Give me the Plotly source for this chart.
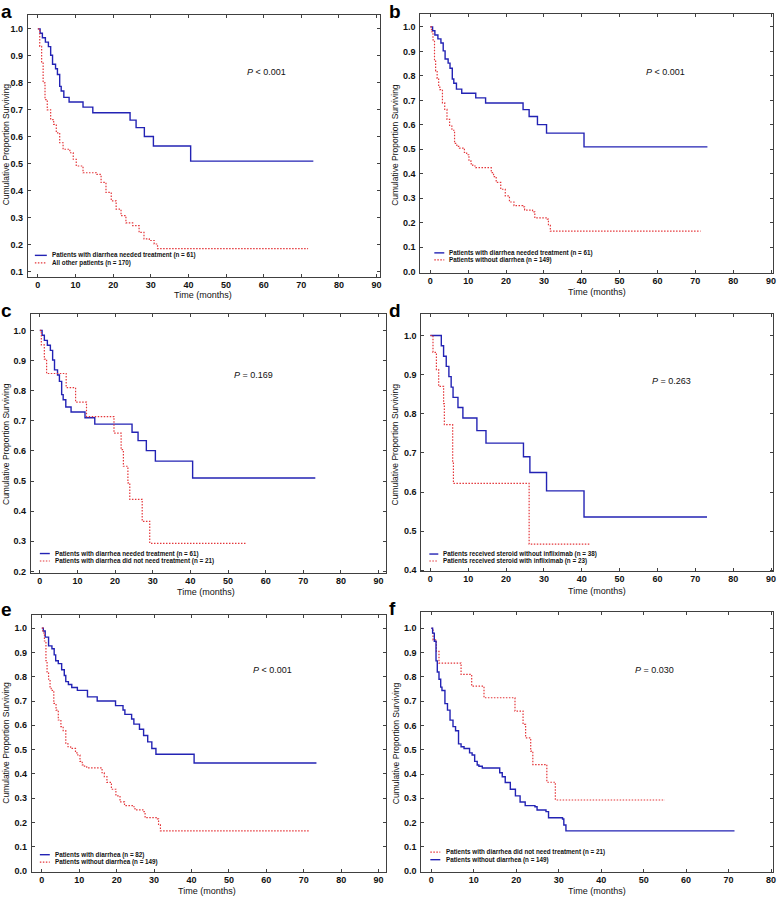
import plotly.graph_objects as go

W, H = 779, 903

# ---------------- data (time in months, cumulative proportion surviving) ----------------
# Patients with diarrhea needed treatment (n = 61)
treat_t = [0, 0.6, 1.2, 2.0, 2.8, 3.4, 3.9, 4.7, 5.2, 5.8, 6.2, 6.9, 8.3, 12.0, 14.6, 24.5, 26.1, 28.3, 30.7, 40.6, 73.2]
treat_s = [1.0, 0.984, 0.967, 0.951, 0.934, 0.902, 0.869, 0.852, 0.831, 0.787, 0.770, 0.746, 0.729, 0.710, 0.689, 0.662, 0.634, 0.601, 0.566, 0.510, 0.510]

# All other patients (n = 170)
other_t = [0, 0.5, 1.0, 1.4, 1.9, 2.5, 3.4, 4.2, 4.9, 5.8, 6.7, 8.5, 9.4, 10.2, 12.0, 15.5, 16.8, 18.1, 19.5, 20.8, 22.1, 23.4, 25.2, 26.9, 28.2, 29.6, 30.9, 31.8, 71.8]
other_s = [1.0, 0.935, 0.873, 0.800, 0.738, 0.700, 0.664, 0.646, 0.615, 0.578, 0.554, 0.541, 0.517, 0.492, 0.467, 0.461, 0.431, 0.394, 0.363, 0.332, 0.308, 0.281, 0.271, 0.246, 0.222, 0.216, 0.203, 0.186, 0.186]

# Patients without diarrhea (n = 149)
nodia_t = [0, 0.3, 0.7, 1.1, 1.4, 1.8, 2.2, 2.5, 3.2, 3.8, 4.4, 5.1, 5.7, 6.4, 7.0, 7.7, 9.0, 9.6, 10.2, 10.8, 11.2, 12.0, 15.5, 16.1, 16.7, 17.4, 18.6, 19.8, 20.9, 22.1, 24.4, 24.9, 27.0, 27.6, 30.9, 31.2, 31.7, 71.4]
nodia_s = [1.0, 0.980, 0.947, 0.866, 0.820, 0.790, 0.758, 0.744, 0.690, 0.663, 0.622, 0.595, 0.578, 0.524, 0.512, 0.505, 0.487, 0.478, 0.452, 0.437, 0.432, 0.425, 0.425, 0.405, 0.389, 0.365, 0.337, 0.310, 0.285, 0.270, 0.265, 0.252, 0.245, 0.220, 0.215, 0.190, 0.166, 0.166]

# Patients with diarrhea did not need treatment (n = 21)
notreat_t = [0, 0.4, 1.2, 1.8, 7.0, 9.5, 12.4, 19.7, 21.6, 22.2, 23.4, 23.9, 27.2, 29.2, 55.0]
notreat_s = [1.0, 0.952, 0.905, 0.857, 0.810, 0.762, 0.714, 0.659, 0.604, 0.549, 0.494, 0.439, 0.366, 0.293, 0.293]

# Patients with diarrhea (n = 82)
dia_t = [0, 0.4, 0.9, 1.8, 2.7, 3.3, 3.7, 4.4, 5.3, 6.0, 6.4, 7.1, 8.0, 9.5, 12.2, 14.8, 19.7, 21.7, 22.2, 24.0, 24.6, 26.1, 27.2, 28.3, 29.4, 30.5, 40.7, 73.4]
dia_s = [1.0, 0.988, 0.963, 0.927, 0.915, 0.890, 0.866, 0.854, 0.829, 0.805, 0.780, 0.768, 0.756, 0.744, 0.717, 0.700, 0.681, 0.663, 0.645, 0.626, 0.605, 0.584, 0.558, 0.532, 0.505, 0.481, 0.445, 0.445]

# Patients received steroid without infliximab (n = 38)
noinf_t = [0, 2.9, 3.5, 4.2, 4.9, 5.5, 6.0, 7.3, 8.6, 12.3, 14.7, 24.6, 26.3, 30.7, 40.6, 73.1]
noinf_s = [1.0, 0.974, 0.947, 0.921, 0.895, 0.868, 0.842, 0.816, 0.789, 0.757, 0.725, 0.690, 0.650, 0.603, 0.536, 0.536]

# Patients received steroid with infliximab (n = 23)
inf_t = [0, 0.7, 1.6, 2.2, 3.5, 3.7, 5.9, 6.1, 26.1, 42.3]
inf_s = [1.0, 0.957, 0.913, 0.870, 0.826, 0.772, 0.674, 0.622, 0.467, 0.467]

lab_treat = "Patients with diarrhea needed treatment (n = 61)"
lab_other = "All other patients (n = 170)"
lab_nodia = "Patients without diarrhea (n = 149)"
lab_notreat = "Patients with diarrhea did not need treatment (n = 21)"
lab_dia = "Patients with diarrhea (n = 82)"
lab_noinf = "Patients received steroid without infliximab (n = 38)"
lab_inf = "Patients received steroid with infliximab (n = 23)"

p_values = ["<i>P</i> < 0.001", "<i>P</i> < 0.001", "<i>P</i> = 0.169",
            "<i>P</i> = 0.263", "<i>P</i> < 0.001", "<i>P</i> = 0.030"]

# ---------------- styling ----------------
BLUE = "#2323b4"
RED = "#e4363a"
FRAME = "#404040"
FONT = "Liberation Sans, Arial, sans-serif"
SOLID = dict(color=BLUE, width=1.4, dash="solid")
DOT = dict(color=RED, width=1.2, dash="1.5px,1.5px")

def fx(x):
    return x / W

def fy(y):
    return 1 - y / H

panels = [
    dict(letter="a", lpos=(0, 0), box=(28, 381, 15, 278), xr=(-2.65, 90.79), yr=(0.0816, 1.0516),
         curves=[(treat_t, treat_s, SOLID, lab_treat), (other_t, other_s, DOT, lab_other)],
         leg=(35, 47, 50, 256.5, 264), ppos=(268, 72), xt=(204, 296), yt=(6, 145)),
    dict(letter="b", lpos=(389, 0), box=(422, 776, 14, 274), xr=(-2.63, 90.53), yr=(-0.004, 1.0528),
         curves=[(treat_t, treat_s, SOLID, lab_treat), (nodia_t, nodia_s, DOT, lab_nodia)],
         leg=(436, 446, 449, 254, 261), ppos=(668, 72), xt=(599, 293), yt=(397, 145)),
    dict(letter="c", lpos=(0, 300), box=(31, 387, 315, 576), xr=(-2.38, 91.85), yr=(0.193, 1.056),
         curves=[(treat_t, treat_s, SOLID, lab_treat), (notreat_t, notreat_s, DOT, lab_notreat)],
         leg=(40, 50, 53, 556, 563.5), ppos=(254, 377), xt=(207, 595), yt=(6, 446)),
    dict(letter="d", lpos=(389, 300), box=(423, 776, 315, 574), xr=(-2.37, 90.53), yr=(0.397, 1.056),
         curves=[(noinf_t, noinf_s, SOLID, lab_noinf), (inf_t, inf_s, DOT, lab_inf)],
         leg=(431, 440, 443, 556.5, 563.5), ppos=(674, 383), xt=(599, 594), yt=(397, 446)),
    dict(letter="e", lpos=(0, 601), box=(32, 387, 618, 876), xr=(-2.66, 91.86), yr=(-0.004, 1.053),
         curves=[(dia_t, dia_s, SOLID, lab_dia), (nodia_t, nodia_s, DOT, lab_nodia)],
         leg=(40, 50, 53, 858.5, 866), ppos=(274, 673), xt=(208, 895), yt=(6, 746)),
    dict(letter="f", lpos=(389, 600), box=(423, 776, 615, 876), xr=(-2.35, 80.47), yr=(-0.004, 1.066),
         curves=[(notreat_t, notreat_s, DOT, lab_notreat), (nodia_t, nodia_s, SOLID, lab_nodia)],
         leg=(432, 442, 446, 856, 863.5), ppos=(657, 673), xt=(599, 895), yt=(397, 746)),
]

fig = go.Figure()
annotations = []
shapes = []
layout = {}

for i, p in enumerate(panels):
    n = "" if i == 0 else str(i + 1)
    xa, ya = "x" + n, "y" + n
    x0, x1, y0, y1 = p["box"]
    for t, s, ln, name in p["curves"]:
        fig.add_trace(go.Scatter(x=t, y=s, mode="lines", line=dict(shape="hv", **ln),
                                 xaxis=xa, yaxis=ya, name=name, showlegend=False,
                                 hoverinfo="skip"))
    axcommon = dict(showline=True, linecolor=FRAME, linewidth=1, mirror="ticks",
                    ticks="inside", ticklen=3, tickcolor=FRAME, showgrid=False,
                    zeroline=False, tickfont=dict(family=FONT, size=9, color="#111", weight="bold"))
    layout["xaxis" + n] = dict(domain=[fx(x0), fx(x1)], range=list(p["xr"]), anchor=ya,
                               tick0=0, dtick=10, ticklabelstandoff=-1, **axcommon)
    layout["yaxis" + n] = dict(domain=[fy(y1), fy(y0)], range=list(p["yr"]), anchor=xa,
                               tick0=0, dtick=0.1, tickformat=".1f", ticklabelstandoff=2, **axcommon)
    # panel letter
    annotations.append(dict(text="<b>%s</b>" % p["letter"], x=fx(p["lpos"][0]), y=fy(p["lpos"][1]),
                            xref="paper", yref="paper", xanchor="left", yanchor="top",
                            borderpad=0, showarrow=False,
                            font=dict(family=FONT, size=19, color="#000")))
    # P value
    annotations.append(dict(text=p_values[i], x=fx(p["ppos"][0]), y=fy(p["ppos"][1]),
                            xref="paper", yref="paper", xanchor="center", yanchor="middle",
                            showarrow=False, font=dict(family=FONT, size=9, color="#111")))
    # axis titles
    annotations.append(dict(text="Time (months)", x=fx(p["xt"][0]), y=fy(p["xt"][1]),
                            xref="paper", yref="paper", xanchor="center", yanchor="middle",
                            showarrow=False, font=dict(family=FONT, size=9, color="#111")))
    annotations.append(dict(text="Cumulative Proportion Surviving", x=fx(p["yt"][0]), y=fy(p["yt"][1]),
                            xref="paper", yref="paper", xanchor="center", yanchor="middle",
                            textangle=-90, showarrow=False,
                            font=dict(family=FONT, size=8.5, color="#111")))
    # legend (inside plot, lower left)
    lx0, lx1, tx, ly1, ly2 = p["leg"]
    for (t, s, ln, name), ly in zip(p["curves"], (ly1, ly2)):
        shapes.append(dict(type="line", xref="paper", yref="paper",
                           x0=fx(lx0), x1=fx(lx1), y0=fy(ly), y1=fy(ly),
                           line=dict(color=ln["color"], width=ln["width"], dash=ln["dash"])))
        annotations.append(dict(text=name, x=fx(tx), y=fy(ly), xref="paper", yref="paper",
                                xanchor="left", yanchor="middle", showarrow=False,
                                font=dict(family=FONT, size=6.3, color="#111", weight="bold")))

fig.update_layout(width=W, height=H, margin=dict(l=0, r=0, t=0, b=0),
                  paper_bgcolor="white", plot_bgcolor="white",
                  annotations=annotations, shapes=shapes, showlegend=False, **layout)

fig.write_html("out.html", config={"displayModeBar": False},
               post_script="document.body.style.margin='0px';")
